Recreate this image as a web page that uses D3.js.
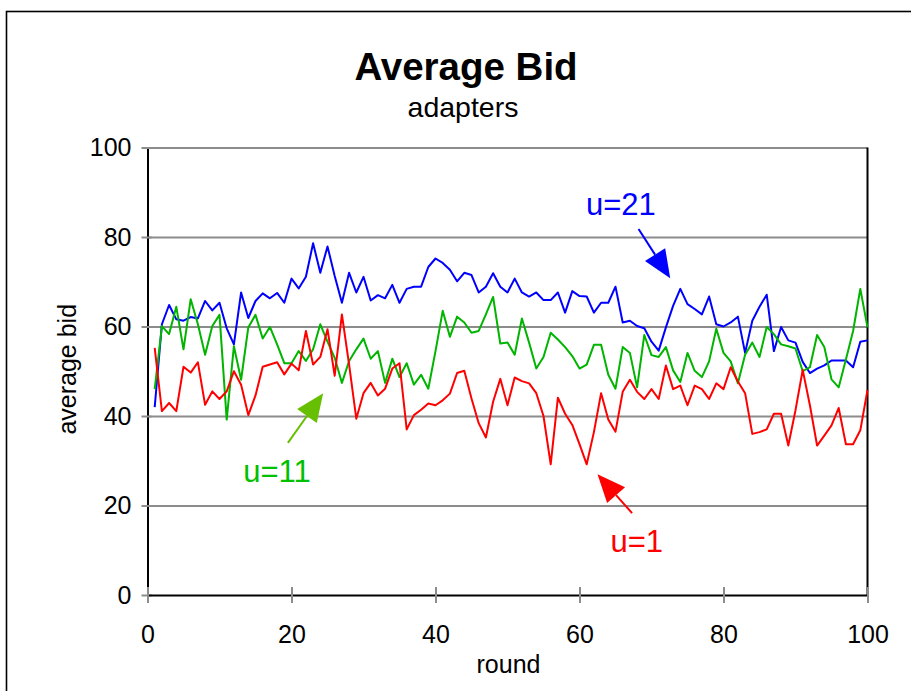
<!DOCTYPE html>
<html>
<head>
<meta charset="utf-8">
<script src="https://cdn.jsdelivr.net/npm/d3@7"></script>
<style>
  html, body { margin: 0; padding: 0; background: #fff; }
  svg { display: block; font-family: "Liberation Sans", Arial, Helvetica, sans-serif; }
</style>
</head>
<body>
<svg id="chart" width="911" height="691"></svg>
<script>
// Average bid per round for three adapter populations
const rounds = d3.range(1, 101);

const bidU21 = [
  42.0, 60.5, 64.8, 61.6, 61.3, 62.1, 61.8, 65.7, 63.6, 65.3,
  59.6, 56.0, 67.6, 61.9, 65.7, 67.4, 66.3, 67.5, 65.3, 70.7,
  68.5, 71.1, 78.6, 72.0, 77.9, 71.3, 65.3, 72.0, 67.6, 71.1,
  65.8, 67.0, 66.3, 69.3, 65.3, 68.4, 68.9, 68.9, 73.3, 75.2,
  74.2, 72.7, 70.1, 72.0, 71.5, 67.6, 68.9, 71.9, 68.9, 67.6,
  70.7, 67.6, 66.7, 67.6, 65.9, 65.9, 67.6, 63.1, 67.9, 66.8,
  66.7, 63.1, 65.3, 65.3, 68.9, 60.9, 61.3, 60.1, 59.6, 56.6,
  54.6, 59.8, 64.6, 68.4, 65.0, 63.9, 62.7, 66.7, 60.5, 60.0,
  60.9, 62.2, 54.1, 61.3, 64.4, 67.1, 54.5, 59.9, 56.9, 56.4,
  52.1, 49.6, 50.6, 51.3, 52.4, 52.4, 52.4, 50.9, 56.6, 56.9
];

const bidU11 = [
  46.0, 60.1, 58.3, 64.4, 54.9, 66.1, 60.5, 53.7, 60.1, 62.6,
  39.2, 55.6, 48.1, 59.8, 62.6, 57.3, 59.9, 56.0, 51.8, 51.8,
  54.5, 52.3, 54.9, 60.5, 56.6, 53.0, 47.4, 52.3, 54.9, 57.3,
  52.8, 54.5, 47.4, 52.8, 48.7, 51.8, 47.0, 49.2, 46.1, 54.5,
  63.5, 57.7, 62.2, 60.9, 58.6, 59.0, 62.7, 66.6, 56.2, 56.4,
  53.7, 61.8, 56.4, 50.6, 53.2, 58.6, 57.1, 55.4, 53.4, 50.6,
  51.5, 55.9, 55.9, 49.2, 46.1, 55.4, 54.1, 46.4, 58.1, 53.6,
  53.2, 55.4, 50.2, 47.6, 54.1, 50.1, 48.7, 52.2, 59.5, 54.1,
  52.2, 47.3, 53.7, 56.4, 53.2, 59.9, 58.3, 56.0, 55.6, 55.1,
  50.0, 50.9, 58.1, 55.4, 48.2, 46.4, 52.6, 59.0, 68.4, 59.8
];

const bidU1 = [
  55.2, 41.1, 42.9, 41.1, 51.0, 49.7, 52.0, 42.5, 45.5, 43.8,
  45.5, 50.0, 47.0, 40.2, 44.6, 51.0, 51.5, 52.0, 49.3, 51.7,
  50.2, 59.0, 51.5, 53.2, 59.4, 49.0, 62.7, 51.5, 39.4, 45.1,
  47.4, 44.6, 46.1, 50.6, 51.8, 37.0, 40.2, 41.4, 42.8, 42.4,
  43.5, 45.0, 49.6, 50.1, 43.9, 38.4, 35.2, 43.2, 48.3, 42.4,
  48.6, 47.8, 47.3, 45.1, 40.0, 29.2, 44.1, 40.5, 38.0, 33.7,
  29.2, 36.4, 45.1, 39.2, 36.5, 45.4, 48.1, 45.4, 43.8, 46.0,
  43.8, 51.3, 46.0, 46.8, 42.4, 46.8, 46.0, 43.8, 47.3, 46.0,
  50.9, 47.7, 45.1, 36.0, 36.4, 37.0, 40.5, 40.5, 33.4, 41.3,
  50.3, 42.4, 33.4, 35.6, 37.9, 41.8, 33.7, 33.7, 36.8, 45.8
];

const xTicks = [0, 20, 40, 60, 80, 100];
const yTicks = [0, 20, 40, 60, 80, 100];

const seriesNames = ["u=21", "u=11", "u=1"];
const seriesColors = ["#0000ff", "#00b400", "#ff0000"];

// Callout labels with arrows, placed in data units (round, bid)
const calloutText = [[60.9, 84.9], [13.3, 25.2], [64.3, 9.6]];
const calloutTail = [[68.2, 81.8], [19.5, 34.0], [67.3, 18.3]];
const calloutTip = [[72.6, 70.8], [24.4, 45.1], [62.5, 27.0]];
const calloutTextColors = ["#0000ff", "#00c000", "#ff0000"];
const calloutArrowColors = ["#0000ff", "#66bf00", "#ff0000"];

const svg = d3.select("#chart");
const W = 911, H = 691;
const FONT = '"Liberation Sans", Arial, sans-serif';

// Outer chart frame
svg.append("rect")
  .attr("x", 6.5).attr("y", 11.5)
  .attr("width", W + 20).attr("height", H + 20)
  .attr("fill", "#fff").attr("stroke", "#000").attr("stroke-width", 1.6);

const plot = { left: 147.5, right: 867.5, top: 147.5, bottom: 595 };

const x = d3.scaleLinear().domain([0, 100]).range([plot.left, plot.right]);
const y = d3.scaleLinear().domain([0, 100]).range([plot.bottom, plot.top]);

// Horizontal gridlines
svg.append("g")
  .attr("transform", `translate(${plot.left},0)`)
  .call(d3.axisLeft(y).tickValues(yTicks.filter(v => v > 0)).tickSize(-(plot.right - plot.left)).tickFormat(""))
  .call(g => g.select(".domain").remove())
  .call(g => g.selectAll("line").attr("stroke", "#8c8c8c").attr("stroke-width", 2));

// Right border of the plot
svg.append("line")
  .attr("x1", plot.right).attr("x2", plot.right)
  .attr("y1", plot.top).attr("y2", plot.bottom)
  .attr("stroke", "#000").attr("stroke-width", 2);

// Y axis
const yAxis = svg.append("g")
  .attr("transform", `translate(${plot.left},0)`)
  .call(d3.axisLeft(y).tickValues(yTicks).tickSizeOuter(0).tickPadding(10));
yAxis.select(".domain").attr("stroke", "#000").attr("stroke-width", 2);
yAxis.selectAll(".tick line").attr("x1", -6).attr("x2", 4).attr("stroke", "#8c8c8c").attr("stroke-width", 2);
yAxis.selectAll(".tick text").attr("font-size", 25).attr("fill", "#000").attr("font-family", FONT);

// X axis
const xAxis = svg.append("g")
  .attr("transform", `translate(0,${plot.bottom})`)
  .call(d3.axisBottom(x).tickValues(xTicks).tickSizeOuter(0).tickPadding(24));
xAxis.select(".domain").attr("stroke", "#000").attr("stroke-width", 2);
xAxis.selectAll(".tick line").attr("y1", -8).attr("y2", 8).attr("stroke", "#8c8c8c").attr("stroke-width", 2);
xAxis.selectAll(".tick text").attr("font-size", 25).attr("fill", "#000").attr("font-family", FONT);

// Series lines
const allSeries = [bidU21, bidU11, bidU1];
const line = d3.line().x((d, i) => x(rounds[i])).y(d => y(d));
allSeries.forEach((vals, k) => {
  svg.append("path")
    .datum(vals)
    .attr("fill", "none")
    .attr("stroke", seriesColors[k])
    .attr("stroke-width", 2)
    .attr("stroke-linejoin", "round")
    .attr("d", line);
});

// Callouts
seriesNames.forEach((name, k) => {
  const [tx, ty] = [x(calloutTip[k][0]), y(calloutTip[k][1])];
  const [sx, sy] = [x(calloutTail[k][0]), y(calloutTail[k][1])];
  const ang = Math.atan2(ty - sy, tx - sx);
  const len = 28, half = 12;
  const bx = tx - len * Math.cos(ang), by = ty - len * Math.sin(ang);
  const px = -Math.sin(ang) * half, py = Math.cos(ang) * half;
  svg.append("line")
    .attr("x1", sx).attr("y1", sy).attr("x2", bx).attr("y2", by)
    .attr("stroke", calloutArrowColors[k]).attr("stroke-width", 2);
  svg.append("path")
    .attr("d", `M${tx},${ty}L${bx + px},${by + py}L${bx - px},${by - py}Z`)
    .attr("fill", calloutArrowColors[k]);
  svg.append("text")
    .attr("x", x(calloutText[k][0])).attr("y", y(calloutText[k][1]))
    .attr("font-size", 31).attr("fill", calloutTextColors[k])
    .text(name);
});

// Titles
svg.append("text")
  .attr("x", 466).attr("y", 80)
  .attr("text-anchor", "middle").attr("font-size", 38.5).attr("font-weight", "bold")
  .text("Average Bid");
svg.append("text")
  .attr("x", 463).attr("y", 117)
  .attr("text-anchor", "middle").attr("font-size", 28.5)
  .text("adapters");

// Axis titles
svg.append("text")
  .attr("x", (plot.left + plot.right) / 2 + 1).attr("y", 673)
  .attr("text-anchor", "middle").attr("font-size", 25)
  .text("round");
svg.append("text")
  .attr("transform", `translate(76,${(plot.top + plot.bottom) / 2 - 2}) rotate(-90)`)
  .attr("text-anchor", "middle").attr("font-size", 25)
  .text("average bid");
</script>
</body>
</html>
